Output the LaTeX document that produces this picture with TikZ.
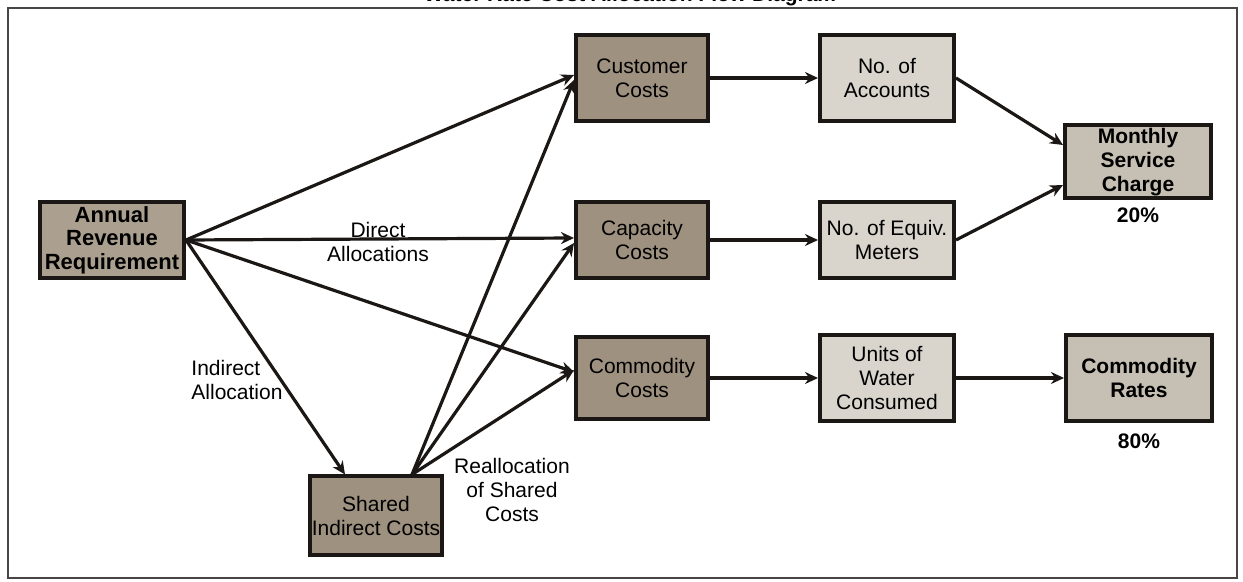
\documentclass[tikz,border=0pt]{standalone}
\usepackage{fontspec}
\setmainfont{Liberation Sans}
\usepackage{xcolor}
\usepackage{tikz}
\usetikzlibrary{arrows.meta,positioning}
\definecolor{costfill}{HTML}{9E9180}
\definecolor{revfill}{HTML}{ABA08F}
\definecolor{unitfill}{HTML}{D9D4CC}
\definecolor{ratefill}{HTML}{C6BFB3}
\definecolor{inkline}{HTML}{1A1714}

\begin{document}
\begin{tikzpicture}[
			x=0.5pt, y=-0.5pt,
			block/.style={
				rectangle, draw=inkline, line width=2pt,
				align=center, inner sep=1pt,
				font=\fontsize{10.5}{11.8}\selectfont
			},
			costblock/.style={block, fill=costfill, minimum width=66pt, minimum height=41pt},
			unitblock/.style={block, fill=unitfill, minimum width=67pt, minimum height=41pt},
			rateblock/.style={block, fill=ratefill, minimum width=73pt, minimum height=40pt,
				font=\fontsize{10.5}{12}\selectfont\bfseries},
			tag/.style={align=center, font=\fontsize{10.5}{12}\selectfont},
			arrow/.style={-{Stealth[length=6.5pt,width=6pt]}, line width=1.6pt, draw=inkline}
			]
			\clip (0,0) rectangle (1243,582);
			\fill[white] (0,0) rectangle (1243,582);
			\draw[line width=1pt, inkline!80] (8,8) rectangle (1237,578);
			\node[anchor=base, font=\fontsize{10.5}{12}\selectfont\bfseries] (title) at (630,2)
				{Water Rate Cost Allocation Flow Diagram};

			% left column
			\node[block, fill=revfill, minimum width=72pt, minimum height=38pt,
				font=\fontsize{11}{11.8}\selectfont\bfseries] (ann) at (112,240)
				{Annual\\Revenue\\Requirement};
			\node[costblock, minimum height=39.5pt] (shared) at (376,516) {Shared\\Indirect Costs};

			% cost centres
			\node[costblock, minimum height=43pt] (cust) at (642,78) {Customer\\Costs};
			\node[costblock, minimum height=38pt] (cap) at (642,240) {Capacity\\Costs};
			\node[costblock] (comm) at (642,378) {Commodity\\Costs};

			% units
			\node[unitblock, minimum height=43pt] (acct) at (887,78) {No. of\\Accounts};
			\node[unitblock, minimum height=38pt] (meters) at (887,240) {No. of Equiv.\\Meters};
			\node[unitblock, minimum height=43pt] (units) at (887,378) {Units of\\Water\\Consumed};

			% rates
			\node[rateblock, minimum height=36.5pt] (monthly) at (1138,162) {Monthly\\Service\\Charge};
			\node[rateblock, minimum height=43pt] (rates) at (1139,378) {Commodity\\Rates};
			\node[tag, font=\fontsize{10.5}{12}\selectfont\bfseries, below=0pt of monthly] (pctm) {20\%};
			\node[tag, font=\fontsize{10.5}{12}\selectfont\bfseries, below=2pt of rates] (pctr) {80\%};

			% labels
			\node[tag] (direct) at (378,242) {Direct\\Allocations};
			\node[tag, align=left] (indirect) at (237,380) {Indirect\\Allocation};
			\node[tag] (realloc) at (512,490) {Reallocation\\of Shared\\Costs};

			% direct allocations
			\draw[arrow] (ann.east) -- ([yshift=1.5pt]cust.west);
			\draw[arrow] (ann.east) -- ([yshift=1pt]cap.west);
			\draw[arrow] (ann.east) -- ([yshift=3pt]comm.west);
			\draw[arrow] (ann.east) -- ([xshift=-15.5pt]shared.north);

			% reallocation
			\draw[arrow] ([xshift=18pt]shared.north) -- ([yshift=-1pt]cust.west);
			\draw[arrow] ([xshift=18pt]shared.north) -- ([yshift=-1.5pt]cap.west);
			\draw[arrow] ([xshift=18pt]shared.north) -- ([yshift=4pt]comm.west);

			% to units and rates
			\draw[arrow] (cust) -- (acct);
			\draw[arrow] (cap) -- (meters);
			\draw[arrow] (comm) -- (units);
			\draw[arrow] (units) -- (rates);
			\draw[arrow] (acct.east) -- ([yshift=8.5pt]monthly.west);
			\draw[arrow] (meters.east) -- ([yshift=-11.5pt]monthly.west);
		\end{tikzpicture}
\end{document}
